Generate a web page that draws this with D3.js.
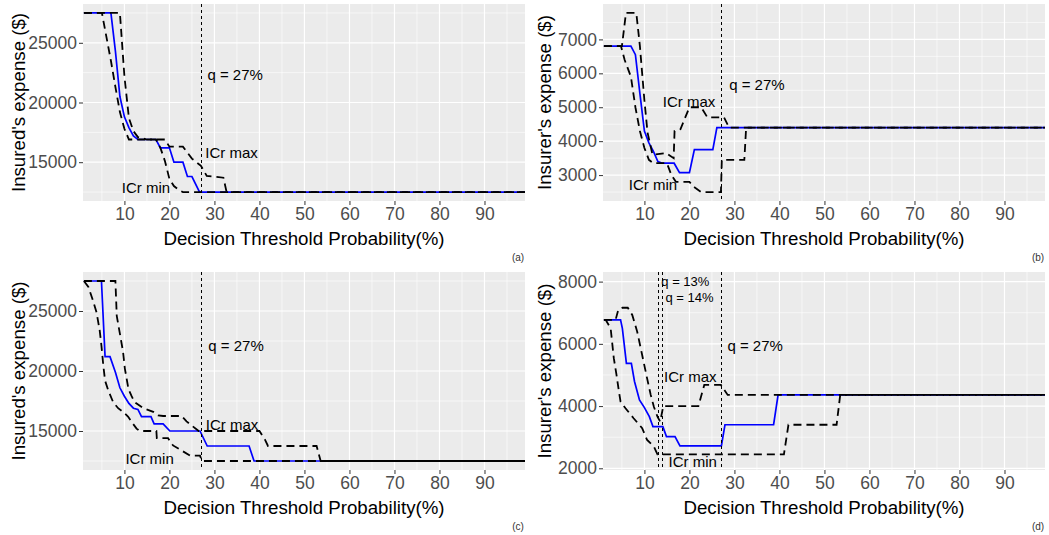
<!DOCTYPE html>
<html>
<head>
<meta charset="utf-8">
<script src="https://cdn.jsdelivr.net/npm/d3@7"></script>
<style>
  body { margin: 0; background: #fff; }
  text { font-family: "Liberation Sans", Arial, sans-serif; }
</style>
</head>
<body>
<script>
// x axis (decision threshold, %)
var xTicks = [10, 20, 30, 40, 50, 60, 70, 80, 90];
var xMinor = [5, 15, 25, 35, 45, 55, 65, 75, 85, 95];

// (a) insured's expense, 27% threshold
var aBlue = [[1,27500],[7,27500],[8,24300],[9,20500],[10,18800],[11,17900],[12,17200],[13,16900],[17,16900],[18,16200],[20,16200],[21,15000],[23,15000],[24,13800],[25,13800],[26.7,12500],[99,12500]];
var aMax = [[1,27500],[9,27500],[10,22200],[11,18700],[12,17600],[13,17100],[15,16900],[19,16900],[20,16300],[23,16300],[24,15800],[25,15300],[26,15000],[27,14700],[28.3,13850],[32,13700],[32.7,12500],[99,12500]];
var aMin = [[1,27500],[5,27500],[6,25500],[7,23500],[8,21300],[9,19200],[10,17800],[11,16900],[17,16900],[18,16200],[19,15100],[20,13600],[21,13000],[22,12700],[23,12500],[99,12500]];
var aLabels = [["q = 27%",34.6,22330],["ICr max",33.8,15830],["ICr min",14.8,12920]];

// (b) insurer's expense, 27% threshold
var bBlue = [[1,6800],[7,6800],[8,6550],[9,5400],[10,4300],[11,3950],[12,3700],[13,3400],[14,3350],[16.6,3350],[17.8,3070],[20,3070],[21.1,3750],[25.2,3750],[26.1,4400],[99,4400]];
var bMax = [[1,6800],[5,6800],[5.9,7780],[8.2,7780],[9,6800],[10,5200],[10.7,4250],[11.8,3600],[14.8,3650],[16.5,3500],[16.7,4300],[18,4350],[20,5000],[22.6,5000],[24,4700],[27.7,4700],[28.8,4400],[99,4400]];
var bMin = [[1,6800],[4.8,6800],[5.6,6400],[7,5900],[8,5000],[9,4300],[10,3800],[11,3450],[12,3350],[15,3350],[16,3000],[17,2800],[20,2800],[21,2650],[22.6,2500],[27,2500],[27.2,3450],[32.2,3450],[32.6,4400],[99,4400]];
var bLabels = [["q = 27%",35,5660],["ICr max",19.9,5170],["ICr min",11.9,2730]];

// (c) insured's expense, second scenario
var cBlue = [[1,27500],[4.9,27500],[5.7,21200],[6.8,21200],[8,19900],[9,18600],[10,17900],[11,17300],[12,16900],[13,16800],[13.8,16200],[15.9,16200],[16.6,15600],[18.6,15600],[20.1,15000],[26.8,15000],[28.4,13750],[37.7,13750],[38.8,12500],[99,12500]];
var cMax = [[1,27500],[8,27500],[8.3,24600],[9.7,21600],[10.1,20200],[10.9,18500],[11.6,17900],[12.3,17400],[14.2,16900],[16.4,16600],[17.5,16300],[18.6,16250],[22.7,16250],[23.8,15800],[26.5,15000],[40,15000],[41.2,14300],[41.9,13750],[52.7,13750],[53.6,12500],[99,12500]];
var cMin = [[1,27500],[2,27000],[2.9,26000],[3.8,24900],[4.5,23400],[4.9,22100],[5.3,20500],[5.7,19200],[6.4,18400],[7.5,17400],[8.6,16900],[9.7,16600],[10.8,16200],[11.9,15600],[12.7,15200],[13.4,15000],[17.1,15000],[17.2,14400],[19.7,14400],[20.8,13800],[24.6,12950],[26.8,12950],[27.2,12500],[99,12500]];
var cLabels = [["q = 27%",34.8,22140],["ICr max",33.9,15560],["ICr min",15.6,12725]];

// (d) insurer's expense, thresholds 13%, 14%, 27%
var dBlue = [[1,6770],[4.7,6770],[5.1,6500],[6,5370],[7.1,5370],[7.8,4790],[8.9,4200],[10,3950],[11.1,3660],[11.9,3340],[14.1,3340],[14.9,3020],[16.8,3020],[17.9,2720],[27.1,2720],[27.9,3400],[38.7,3400],[39.7,4360],[99,4360]];
var dMax = [[1,6770],[3.6,6770],[4.2,7100],[5.1,7160],[6.3,7160],[7.3,6930],[8.4,6390],[9.5,5640],[10.6,4890],[11.4,4360],[12.1,3980],[12.9,3660],[13.5,3500],[14.2,4000],[22,4000],[23.3,4680],[27,4680],[28.5,4360],[99,4360]];
var dMin = [[1,6770],[1.4,6770],[2.5,6500],[3.2,5540],[3.8,5000],[4.4,4410],[4.7,4140],[5.8,3930],[7.6,3610],[9.5,3290],[10.6,2910],[12.1,2700],[12.9,2450],[41,2450],[42,3400],[52.7,3400],[53.5,4360],[99,4360]];
var dLabels = [["q = 27%",34.6,5933],["ICr max",20.2,4936],["ICr min",20.75,2235]];
var dSmallLabels = [["q = 13%",19.1,8020],["q = 14%",20,7476]];

var w = 1049;
var h = 535;

var svg = d3.select("body")
    .append("svg")
    .attr("width", w)
    .attr("height", h);

svg.append("rect").attr("width", w).attr("height", h).attr("fill", "white");

var panels = [
    {tag: "(a)", left: 83, top: 4, right: 525, bottom: 201, yTitle: "Insured's expense ($)", titleX: 18,
     blue: aBlue, max: aMax, min: aMin, labels: aLabels, small: [], qLines: [27], yTicks: [15000, 20000, 25000]},
    {tag: "(b)", left: 603, top: 4, right: 1045, bottom: 201, yTitle: "Insurer's expense ($)", titleX: 544,
     blue: bBlue, max: bMax, min: bMin, labels: bLabels, small: [], qLines: [27], yTicks: [3000, 4000, 5000, 6000, 7000]},
    {tag: "(c)", left: 83, top: 272, right: 525, bottom: 470, yTitle: "Insured's expense ($)", titleX: 18,
     blue: cBlue, max: cMax, min: cMin, labels: cLabels, small: [], qLines: [27], yTicks: [15000, 20000, 25000]},
    {tag: "(d)", left: 603, top: 272, right: 1045, bottom: 470, yTitle: "Insurer's expense ($)", titleX: 544,
     blue: dBlue, max: dMax, min: dMin, labels: dLabels, small: dSmallLabels, qLines: [13, 14, 27], yTicks: [2000, 4000, 6000, 8000]}
];

panels.forEach(function (p) {
    var x = d3.scaleLinear().domain([0.8, 99]).range([p.left, p.right]);

    // ggplot style: extent of everything drawn, padded 5% each side
    var vals = p.blue.concat(p.max, p.min).map(d => d[1])
        .concat(p.labels.map(d => d[2]), p.small.map(d => d[2]));
    var ext = d3.extent(vals);
    var pad = (ext[1] - ext[0]) * 0.05;
    var y = d3.scaleLinear().domain([ext[0] - pad, ext[1] + pad]).range([p.bottom, p.top]);

    var step = p.yTicks[1] - p.yTicks[0];
    var yMinor = [];
    for (var v = p.yTicks[0] - step / 2; v <= y.domain()[1]; v += step) {
        if (v >= y.domain()[0]) yMinor.push(v);
    }

    var g = svg.append("g");

    g.append("rect")
        .attr("x", p.left).attr("y", p.top)
        .attr("width", p.right - p.left).attr("height", p.bottom - p.top)
        .attr("fill", "#EBEBEB");

    // grid
    g.selectAll(".xminor").data(xMinor.filter(d => x(d) < p.right)).enter().append("line")
        .attr("x1", d => x(d)).attr("x2", d => x(d))
        .attr("y1", p.top).attr("y2", p.bottom)
        .attr("stroke", "white").attr("stroke-width", 0.6);
    g.selectAll(".yminor").data(yMinor).enter().append("line")
        .attr("x1", p.left).attr("x2", p.right)
        .attr("y1", d => y(d)).attr("y2", d => y(d))
        .attr("stroke", "white").attr("stroke-width", 0.6);
    g.selectAll(".xmajor").data(xTicks).enter().append("line")
        .attr("x1", d => x(d)).attr("x2", d => x(d))
        .attr("y1", p.top).attr("y2", p.bottom)
        .attr("stroke", "white").attr("stroke-width", 1.2);
    g.selectAll(".ymajor").data(p.yTicks).enter().append("line")
        .attr("x1", p.left).attr("x2", p.right)
        .attr("y1", d => y(d)).attr("y2", d => y(d))
        .attr("stroke", "white").attr("stroke-width", 1.2);

    var line = d3.line().x(d => x(d[0])).y(d => y(d[1]));

    g.append("path").attr("d", line(p.blue))
        .attr("fill", "none").attr("stroke", "blue").attr("stroke-width", 1.7);
    [p.max, p.min].forEach(function (s) {
        g.append("path").attr("d", line(s))
            .attr("fill", "none").attr("stroke", "black").attr("stroke-width", 1.8)
            .attr("stroke-dasharray", "8,5");
    });

    g.selectAll(".q").data(p.qLines).enter().append("line")
        .attr("x1", d => Math.round(x(d)) + 0.5).attr("x2", d => Math.round(x(d)) + 0.5)
        .attr("y1", p.top).attr("y2", p.bottom)
        .attr("stroke", "black").attr("stroke-width", 1)
        .attr("stroke-dasharray", "3,3");

    g.selectAll(".lab").data(p.labels).enter().append("text")
        .attr("x", d => x(d[1])).attr("y", d => y(d[2]))
        .attr("text-anchor", "middle").attr("dominant-baseline", "central")
        .attr("font-size", "15px").attr("fill", "black")
        .text(d => d[0]);
    g.selectAll(".slab").data(p.small).enter().append("text")
        .attr("x", d => x(d[1])).attr("y", d => y(d[2]))
        .attr("text-anchor", "middle").attr("dominant-baseline", "central")
        .attr("font-size", "13px").attr("fill", "black")
        .text(d => d[0]);

    // axes
    var xAxis = g.append("g")
        .attr("transform", "translate(0," + p.bottom + ")")
        .call(d3.axisBottom(x).tickValues(xTicks).tickSize(4).tickPadding(3));
    var yAxis = g.append("g")
        .attr("transform", "translate(" + p.left + ",0)")
        .call(d3.axisLeft(y).tickValues(p.yTicks).tickSize(4).tickPadding(2).tickFormat(d3.format("d")));
    [xAxis, yAxis].forEach(function (a) {
        a.select(".domain").remove();
        a.selectAll("line").attr("stroke", "#333333");
        a.selectAll("text").attr("fill", "#4D4D4D").attr("font-size", "17.5px")
            .style("font-family", "'Liberation Sans', Arial, sans-serif");
    });

    g.append("text")
        .attr("x", (p.left + p.right) / 2).attr("y", p.bottom + 37)
        .attr("text-anchor", "middle").attr("dominant-baseline", "central")
        .attr("font-size", "18.7px")
        .text("Decision Threshold Probability(%)");

    g.append("text")
        .attr("transform", "translate(" + p.titleX + "," + (p.top + p.bottom) / 2 + ") rotate(-90)")
        .attr("text-anchor", "middle").attr("dominant-baseline", "central")
        .attr("font-size", "18.7px")
        .text(p.yTitle);

    g.append("text")
        .attr("x", p.right - 7).attr("y", p.bottom + 56)
        .attr("text-anchor", "middle").attr("dominant-baseline", "central")
        .attr("font-size", "10px").attr("fill", "#333")
        .text(p.tag);
});
</script>
</body>
</html>
